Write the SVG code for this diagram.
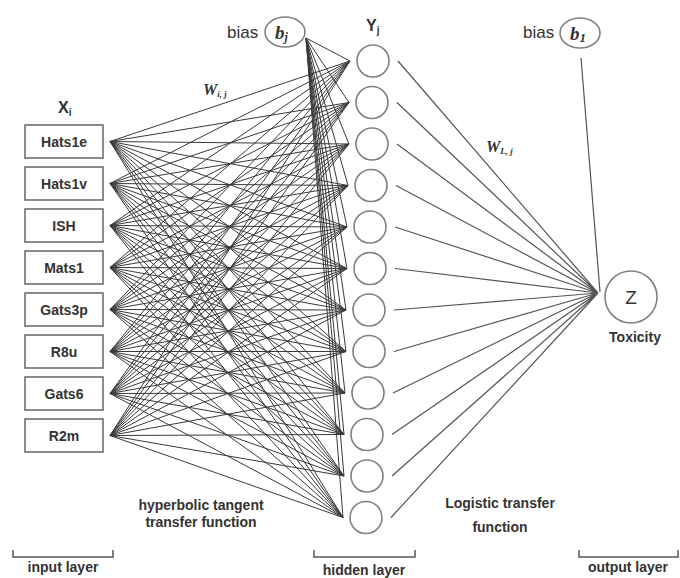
<svg xmlns="http://www.w3.org/2000/svg" width="680" height="578" viewBox="0 0 680 578">
<style>
.box{fill:#fff;stroke:#666;stroke-width:1.5}
.nd{fill:#fff;stroke:#808080;stroke-width:1.6}
.w{stroke:#3a3a3a;stroke-width:1;fill:none}
.w2{stroke:#555;stroke-width:1.2;fill:none}
.br{stroke:#555;stroke-width:1.5;fill:none}
.lb{font-family:"Liberation Sans",Arial,sans-serif;font-weight:bold;font-size:14px;fill:#333;text-anchor:middle}
.bl{font-family:"Liberation Sans",Arial,sans-serif;font-size:17px;fill:#333}
.mt{font-family:"Liberation Serif","Times New Roman",serif;font-style:italic;font-weight:bold;fill:#333}
.hd{font-family:"Liberation Sans",Arial,sans-serif;font-weight:bold;font-size:16px;fill:#333}
</style>
<rect width="680" height="578" fill="#fff"/>
<g id="connectors">
<path class="w" d="M110 141.5L350 61M110 141.5L349 102.5M110 141.5L349 144M110 141.5L348 185.5M110 141.5L347 227M110 141.5L347 268.5M110 141.5L346 310M110 141.5L346 351.5M110 141.5L345 393M110 141.5L344 434.5M110 141.5L344 476M110 141.5L343 517.5"/>
<path class="w" d="M110 183.5L350 61M110 183.5L349 102.5M110 183.5L349 144M110 183.5L348 185.5M110 183.5L347 227M110 183.5L347 268.5M110 183.5L346 310M110 183.5L346 351.5M110 183.5L345 393M110 183.5L344 434.5M110 183.5L344 476M110 183.5L343 517.5"/>
<path class="w" d="M110 225.5L350 61M110 225.5L349 102.5M110 225.5L349 144M110 225.5L348 185.5M110 225.5L347 227M110 225.5L347 268.5M110 225.5L346 310M110 225.5L346 351.5M110 225.5L345 393M110 225.5L344 434.5M110 225.5L344 476M110 225.5L343 517.5"/>
<path class="w" d="M110 267.5L350 61M110 267.5L349 102.5M110 267.5L349 144M110 267.5L348 185.5M110 267.5L347 227M110 267.5L347 268.5M110 267.5L346 310M110 267.5L346 351.5M110 267.5L345 393M110 267.5L344 434.5M110 267.5L344 476M110 267.5L343 517.5"/>
<path class="w" d="M110 309.5L350 61M110 309.5L349 102.5M110 309.5L349 144M110 309.5L348 185.5M110 309.5L347 227M110 309.5L347 268.5M110 309.5L346 310M110 309.5L346 351.5M110 309.5L345 393M110 309.5L344 434.5M110 309.5L344 476M110 309.5L343 517.5"/>
<path class="w" d="M110 351.5L350 61M110 351.5L349 102.5M110 351.5L349 144M110 351.5L348 185.5M110 351.5L347 227M110 351.5L347 268.5M110 351.5L346 310M110 351.5L346 351.5M110 351.5L345 393M110 351.5L344 434.5M110 351.5L344 476M110 351.5L343 517.5"/>
<path class="w" d="M110 393.5L350 61M110 393.5L349 102.5M110 393.5L349 144M110 393.5L348 185.5M110 393.5L347 227M110 393.5L347 268.5M110 393.5L346 310M110 393.5L346 351.5M110 393.5L345 393M110 393.5L344 434.5M110 393.5L344 476M110 393.5L343 517.5"/>
<path class="w" d="M110 435.5L350 61M110 435.5L349 102.5M110 435.5L349 144M110 435.5L348 185.5M110 435.5L347 227M110 435.5L347 268.5M110 435.5L346 310M110 435.5L346 351.5M110 435.5L345 393M110 435.5L344 434.5M110 435.5L344 476M110 435.5L343 517.5"/>
<path class="w" d="M306 38L350 61M306 38L349 102.5M306 38L349 144M306 38L348 185.5M306 38L347 227M306 38L347 268.5M306 38L346 310M306 38L346 351.5M306 38L345 393M306 38L344 434.5M306 38L344 476M306 38L343 517.5"/>
<path class="w2" d="M398 61L598 293M397 102.5L598 293M397 144L598 293M396 185.5L598 293M395 227L598 293M395 268.5L598 293M394 310L598 293M394 351.5L598 293M393 393L598 293M392 434.5L598 293M392 476L598 293M391 517.5L598 293"/>
<path class="w2" d="M581 58L600 292"/>
</g>
<g id="input-nodes">
<g id="in-Hats1e"><rect class="box" x="25" y="125" width="78" height="33"/><text class="lb" x="64" y="147">Hats1e</text></g>
<g id="in-Hats1v"><rect class="box" x="25" y="167" width="78" height="33"/><text class="lb" x="64" y="189">Hats1v</text></g>
<g id="in-ISH"><rect class="box" x="25" y="209" width="78" height="33"/><text class="lb" x="64" y="231">ISH</text></g>
<g id="in-Mats1"><rect class="box" x="25" y="251" width="78" height="33"/><text class="lb" x="64" y="273">Mats1</text></g>
<g id="in-Gats3p"><rect class="box" x="25" y="293" width="78" height="33"/><text class="lb" x="64" y="315">Gats3p</text></g>
<g id="in-R8u"><rect class="box" x="25" y="335" width="78" height="33"/><text class="lb" x="64" y="357">R8u</text></g>
<g id="in-Gats6"><rect class="box" x="25" y="377" width="78" height="33"/><text class="lb" x="64" y="399">Gats6</text></g>
<g id="in-R2m"><rect class="box" x="25" y="419" width="78" height="33"/><text class="lb" x="64" y="441">R2m</text></g>
</g>
<g id="hidden-nodes">
<circle class="nd" cx="373" cy="61" r="16"/>
<circle class="nd" cx="372" cy="102.5" r="16"/>
<circle class="nd" cx="372" cy="144" r="16"/>
<circle class="nd" cx="371" cy="185.5" r="16"/>
<circle class="nd" cx="370" cy="227" r="16"/>
<circle class="nd" cx="370" cy="268.5" r="16"/>
<circle class="nd" cx="369" cy="310" r="16"/>
<circle class="nd" cx="369" cy="351.5" r="16"/>
<circle class="nd" cx="368" cy="393" r="16"/>
<circle class="nd" cx="367" cy="434.5" r="16"/>
<circle class="nd" cx="367" cy="476" r="16"/>
<circle class="nd" cx="366" cy="517.5" r="16"/>
</g>
<g id="bias-hidden">
<text class="bl" x="227" y="38">bias</text>
<ellipse class="nd" cx="285" cy="32" rx="20" ry="15"/>
<text class="mt" x="275" y="39" font-size="19">b<tspan font-size="12" dy="2">j</tspan></text>
</g>
<g id="bias-output">
<text class="bl" x="523" y="38">bias</text>
<ellipse class="nd" cx="580" cy="33" rx="20" ry="15"/>
<text class="mt" x="570" y="40" font-size="19">b<tspan font-size="13" dy="2">1</tspan></text>
</g>
<g id="output-node">
<circle class="nd" cx="631" cy="297" r="26"/>
<text x="631" y="304" font-family="Liberation Sans,Arial,sans-serif" font-size="19" fill="#333" text-anchor="middle">Z</text>
<text class="lb" x="635" y="342" font-size="15">Toxicity</text>
</g>
<g id="labels">
<text class="hd" x="58" y="113">X<tspan font-size="10" dy="3">i</tspan></text>
<text class="hd" x="366" y="31">Y<tspan font-size="10" dy="3">j</tspan></text>
<text class="mt" x="203" y="95" font-size="16">W<tspan font-size="9" dy="2">i, j</tspan></text>
<text class="mt" x="486" y="152" font-size="16">W<tspan font-size="9" dy="2">L, j</tspan></text>
<text class="lb" x="201" y="510">hyperbolic tangent</text>
<text class="lb" x="201" y="527">transfer function</text>
<text class="lb" x="500" y="508">Logistic transfer</text>
<text class="lb" x="500" y="532">function</text>
<path class="br" d="M13 550V557H113V550"/>
<text class="lb" x="63" y="572">input layer</text>
<path class="br" d="M314 550V557H415V550"/>
<text class="lb" x="364" y="575">hidden layer</text>
<path class="br" d="M579 550V557H678V550"/>
<text class="lb" x="628" y="572">output layer</text>
</g>
</svg>
